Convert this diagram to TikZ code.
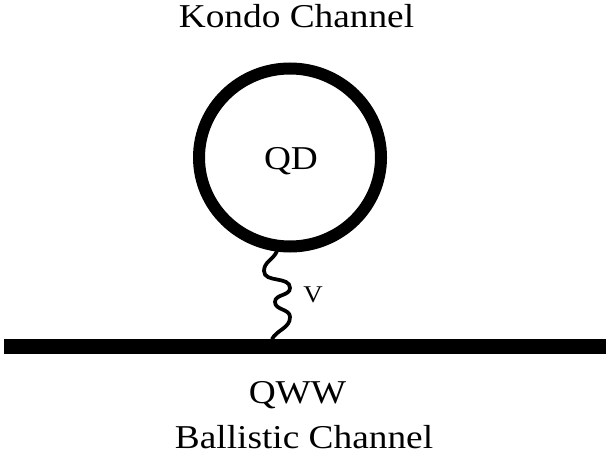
\documentclass[tikz,border=0pt]{standalone}
\usepackage{fontspec}
\setmainfont{Liberation Serif}
\usepackage{tikz}
\usetikzlibrary{shapes.geometric,calc}

\begin{document}
\begin{tikzpicture}[x=0.75pt,y=-0.75pt,
  label/.style={inner sep=0pt,anchor=base,xscale=1.12,transform shape,font=\fontsize{25}{28}\selectfont},
  dot/.style={draw,ellipse,line width=9pt,minimum width=136.5pt,minimum height=133.5pt,inner sep=0pt},
  wire/.style={line width=2.8pt,line cap=round}]
\useasboundingbox (0,0) rectangle (606,460);
% Titles
\node[label] (kondo) at (296.5,28) {Kondo Channel};
\node[label] (qww) at (297.5,403) {QWW};
\node[label] (ballistic) at (304,448) {Ballistic Channel};
% Quantum dot
\node[dot] (qd) at (290,157.5) {};
\node[label] (qdtext) at (291,169) {QD};
% Wire (ballistic channel)
\coordinate (barleft) at (4,346.5);
\coordinate (barright) at (606,346.5);
\draw[line width=11.25pt] (barleft) -- (barright);
% Coupling V
\coordinate (wtop) at (qd.262);
\coordinate (wbot) at (272,339);
\draw[wire] (wtop) to[out=-115,in=90] (264,271)
                   to[out=-90,in=90] (290,288)
                   to[out=-90,in=90] (275,302)
                   to[out=-90,in=90] (290,317)
                   to[out=-90,in=60] (wbot);
\node[label,font=\fontsize{18}{20}\selectfont] (vlabel) at (313,302) {V};
\end{tikzpicture}
\end{document}
